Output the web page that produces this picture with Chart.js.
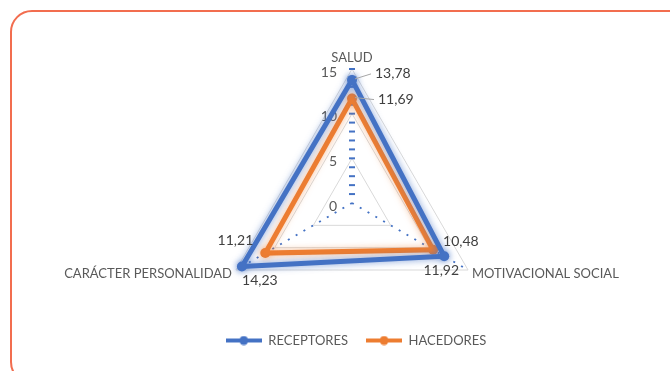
<!DOCTYPE html>
<html>
<head>
<meta charset="utf-8">
<script src="https://cdn.jsdelivr.net/npm/chart.js@4.4.0/dist/chart.umd.min.js"></script>
<style>
  body { margin: 0; background: #fff; }
  #wrap { position: relative; width: 670px; height: 371px; overflow: hidden; }
  #marco { position: absolute; left: 10px; top: 10px; width: 680px; height: 370px;
           border: 2px solid #F26D4F; border-radius: 22px; }
  canvas { position: absolute; left: 0; top: 0; }
</style>
</head>
<body>
<div id="wrap">
  <div id="marco"></div>
  <canvas id="myChart" width="670" height="371"></canvas>
</div>
<script>
// datos
const categorias = ['SALUD', 'MOTIVACIONAL SOCIAL', 'CARÁCTER PERSONALIDAD'];
const receptores = [13.78, 11.92, 14.23];
const hacedores = [11.69, 10.48, 11.21];
const ticks = [0, 5, 10, 15];

const AZUL = '#4472C4';
const NARANJA = '#ED7D31';
const FUENTE = 'Lato, "Open Sans", sans-serif';

// posiciones de las etiquetas de datos (dx, dy, alineacion, linea guia)
const etiquetasPos = [
  [[23, -6, 'left', true], [-3, 14, 'center', false], [18, 14, 'center', false]],
  [[26, 1, 'left', true], [10, -8, 'left', false], [-12, -13, 'right', false]]
];
const categoriasPos = [[0, -11, 'center'], [4, 4, 'left'], [-4, 4, 'right']];

function formato(v) {
  return v.toFixed(2).replace('.', ',');
}

// icono de la leyenda: linea con punto
function iconoLeyenda(color) {
  const c = document.createElement('canvas');
  c.width = 36; c.height = 10;
  const g = c.getContext('2d');
  g.strokeStyle = color; g.lineWidth = 4;
  g.beginPath(); g.moveTo(0, 5); g.lineTo(36, 5); g.stroke();
  g.fillStyle = color;
  g.beginPath(); g.arc(18, 5, 4.5, 0, Math.PI * 2); g.fill();
  return c;
}

// brillo alrededor de las lineas
const brillo = {
  id: 'brillo',
  beforeDatasetDraw(chart, args) {
    const ds = chart.data.datasets[args.index];
    chart.ctx.save();
    chart.ctx.shadowColor = ds.brillo;
    chart.ctx.shadowBlur = 7;
  },
  afterDatasetDraw(chart) {
    chart.ctx.restore();
  }
};

// textos: ticks, categorias y etiquetas de datos
const textos = {
  id: 'textos',
  beforeDatasetsDraw(chart) {
    const s = chart.scales.r;
    const ctx = chart.ctx;
    ctx.save();
    // marcas menores del eje vertical
    ctx.strokeStyle = AZUL;
    ctx.lineWidth = 2;
    for (let v = 1; v <= 15; v++) {
      const p = s.getPointPositionForValue(0, v);
      ctx.beginPath(); ctx.moveTo(p.x - 3, p.y); ctx.lineTo(p.x + 3, p.y); ctx.stroke();
    }
    ctx.fillStyle = '#595959';
    ctx.font = '14px ' + FUENTE;
    ctx.textAlign = 'right';
    ctx.textBaseline = 'middle';
    ticks.forEach(v => {
      const p = s.getPointPositionForValue(0, v);
      ctx.fillText(String(v), p.x - 15, p.y + 3);
    });
    ctx.font = '13px ' + FUENTE;
    categorias.forEach((c, i) => {
      const p = s.getPointPositionForValue(i, 15);
      const o = categoriasPos[i];
      ctx.textAlign = o[2];
      ctx.fillText(c, p.x + o[0], p.y + o[1]);
    });
    ctx.restore();
  },
  afterDatasetsDraw(chart) {
    const ctx = chart.ctx;
    ctx.save();
    ctx.font = '14px ' + FUENTE;
    ctx.textBaseline = 'middle';
    chart.data.datasets.forEach((ds, d) => {
      const meta = chart.getDatasetMeta(d);
      meta.data.forEach((pt, i) => {
        const o = etiquetasPos[d][i];
        const x = pt.x + o[0], y = pt.y + o[1];
        if (o[3]) {
          ctx.strokeStyle = '#A6A6A6';
          ctx.lineWidth = 1;
          ctx.beginPath(); ctx.moveTo(pt.x + 3, pt.y - 1); ctx.lineTo(x - 4, y); ctx.stroke();
        }
        ctx.fillStyle = '#404040';
        ctx.textAlign = o[2];
        ctx.fillText(formato(ds.data[i]), x, y);
      });
    });
    ctx.restore();
  }
};

const ctx = document.getElementById('myChart');

const myChart = new Chart(ctx, {
  type: 'radar',
  data: {
    labels: categorias,
    datasets: [
      { label: 'RECEPTORES', data: receptores, borderColor: AZUL, backgroundColor: AZUL,
        pointBackgroundColor: AZUL, brillo: 'rgba(68,114,196,0.7)', icono: iconoLeyenda(AZUL) },
      { label: 'HACEDORES', data: hacedores, borderColor: NARANJA, backgroundColor: NARANJA,
        pointBackgroundColor: NARANJA, brillo: 'rgba(237,125,49,0.55)', icono: iconoLeyenda(NARANJA) }
    ]
  },
  options: {
    responsive: false,
    animation: false,
    devicePixelRatio: 1,
    layout: { padding: { left: 42, bottom: 14 } },
    elements: {
      line: { borderWidth: 5, fill: false, tension: 0 },
      point: { radius: 5, borderWidth: 0, hoverRadius: 5 }
    },
    scales: {
      r: {
        min: 0,
        max: 15,
        ticks: { display: false, stepSize: 5 },
        pointLabels: { display: false },
        grid: { color: '#D9D9D9', lineWidth: 1 },
        angleLines: {
          color: (c) => c.index === 0 ? 'rgba(0,0,0,0)' : AZUL,
          lineWidth: 2,
          borderDash: [2, 7]
        },
        afterFit: (s) => {
          s.xCenter = 352;
          s.yCenter = 203;
          s.drawingArea = 134;
        }
      }
    },
    plugins: {
      tooltip: { enabled: false },
      legend: {
        position: 'bottom',
        labels: {
          usePointStyle: true,
          pointStyleWidth: 36,
          boxHeight: 10,
          padding: 18,
          color: '#595959',
          font: { family: FUENTE, size: 13 },
          generateLabels: (chart) => {
            const items = Chart.defaults.plugins.legend.labels.generateLabels(chart);
            items.forEach(it => { it.pointStyle = chart.data.datasets[it.datasetIndex].icono; });
            return items;
          }
        }
      }
    }
  },
  plugins: [brillo, textos]
});
</script>
</body>
</html>
